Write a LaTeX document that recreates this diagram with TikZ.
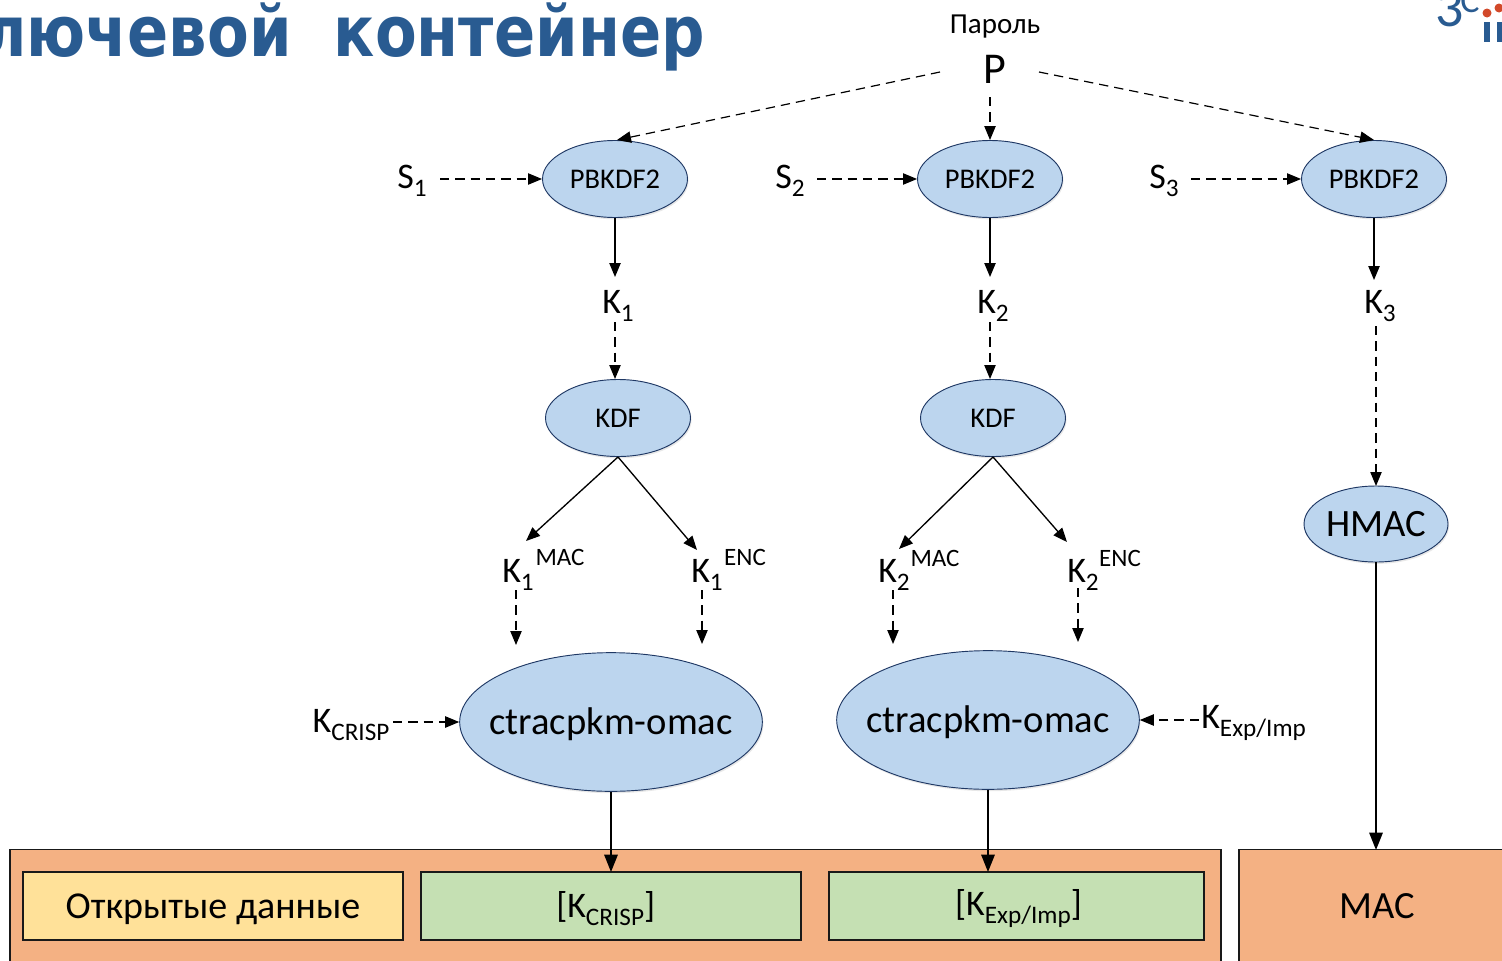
\documentclass[tikz,border=0pt]{standalone}
\usepackage{fontspec}
\setmainfont{Carlito}
\newfontfamily\titlefont[FakeStretch=0.865]{DejaVu Sans Bold}
\usetikzlibrary{shapes.geometric,arrows.meta,shadows}
\newcommand{\pxf}[1]{\fontsize{\dimexpr#1pt*3/4\relax}{\dimexpr#1pt*9/10\relax}\selectfont}
\newcommand{\lowered}[1]{\raisebox{-0.22em}{\scalebox{0.7}{#1}}}
\newcommand{\ztext}[1]{\makebox[0pt]{#1}}
\newcommand{\shiftdown}[2]{\raisebox{-#1}[\height][\depth]{#2}}
\definecolor{ellfill}{HTML}{BCD5EE}
\definecolor{elldraw}{HTML}{1F3864}
\definecolor{orangefill}{HTML}{F4B183}
\definecolor{yellowfill}{HTML}{FFE199}
\definecolor{greenfill}{HTML}{C5E0B3}
\definecolor{titleblue}{HTML}{295B91}
\definecolor{logored}{HTML}{D2492A}
\tikzset{
  x=0.75pt,y=-0.75pt,
  tip/.style={-{Triangle[length=10.5pt,width=8.5pt]}},
  solidarrow/.style={tip,line width=1pt,black},
  heavyarrow/.style={-{Triangle[length=13pt,width=10pt]},line width=1.5pt,black},
  dasharrow/.style={tip,line width=0.9pt,black,dash pattern=on 7pt off 4.5pt},
  ell/.style={ellipse,draw=elldraw,fill=ellfill,line width=0.7pt,inner sep=0pt,
    drop shadow={opacity=0.18,shadow xshift=0.8pt,shadow yshift=-1.4pt}},
  smallell/.style={ell,minimum width=108.75pt,minimum height=57.75pt,font=\pxf{28.5}},
  bigell/.style={ell,minimum width=227pt,minimum height=104pt,font=\pxf{38.6}},
  hmacell/.style={ell,minimum width=108pt,minimum height=57pt,font=\pxf{38.7}},
  lab/.style={inner sep=0pt,font=\pxf{36}},
  box/.style={draw=black!90,line width=1.1pt,inner sep=0pt,outer sep=0pt,anchor=north west,
    drop shadow={opacity=0.15,shadow xshift=0.8pt,shadow yshift=-0.8pt}},
}
\begin{document}
\begin{tikzpicture}
\useasboundingbox (0,0) rectangle (1502,960);
\clip (0,0) rectangle (1502,960);
% title
\node[anchor=east,inner sep=0pt,text=titleblue,font={\titlefont\fontsize{52.7pt}{60pt}\selectfont}] (title) at (705,37) {Ключевой\hspace{0.6em}контейнер};
% logo
\node[inner sep=0pt,text=titleblue,font=\pxf{56}] (logo3) at (1450,9) {3};
\node[inner sep=0pt,text=titleblue,font=\pxf{36}] (logoc) at (1470,1) {C};
\fill[logored] (1487,13) circle (4.5);
\fill[logored] (1499,8) circle (4.5);
\fill[titleblue] (1484,22) rectangle (1490,42);
\fill[titleblue] (1497,22) rectangle (1502,42);
% bottom panels
\node[box,fill=orangefill,minimum width=908.25pt,minimum height=100pt] (panelA) at (10,849.5) {};
\node[box,fill=orangefill,minimum width=240pt,minimum height=100pt] (panelB) at (1239,849.5) {};
\node[box,fill=yellowfill,minimum width=285pt,minimum height=51pt,font=\pxf{38}] (open) at (23,872) {\shiftdown{2.2pt}{Открытые данные}};
\node[box,fill=greenfill,minimum width=285pt,minimum height=51pt,font=\pxf{36}] (crisp) at (421,872) {\hspace*{-8pt}\shiftdown{1.8pt}{[K\lowered{CRISP}]}};
\node[box,fill=greenfill,minimum width=281.25pt,minimum height=51pt,font=\pxf{36}] (exp) at (829,872) {\hspace*{3pt}\shiftdown{1.8pt}{[K\lowered{Exp/Imp}]}};
\node[inner sep=0pt,font=\pxf{38.5}] (mac) at (1377,906) {MAC};
\coordinate (macin) at (1376,850);
% ellipses
\node[smallell] (pa) at (615,179) {\ztext{PBKDF2}};
\node[smallell] (pb) at (990,179) {\ztext{PBKDF2}};
\node[smallell] (pc) at (1374,179) {\ztext{PBKDF2}};
\node[smallell] (ka) at (618,418) {\ztext{KDF}};
\node[smallell] (kb) at (993,418) {\ztext{KDF}};
\node[hmacell] (hm) at (1376,524) {\ztext{HMAC}};
\node[bigell] (ca) at (611,722) {\ztext{\shiftdown{1.5pt}{ctracpkm-omac}}};
\node[bigell] (cb) at (988,720) {\ztext{\shiftdown{1.5pt}{ctracpkm-omac}}};
% labels
\node[inner sep=0pt,font=\pxf{29}] (pw) at (995,27) {Пароль};
\node[inner sep=0pt,font=\pxf{44}] (P) at (995,69) {P};
\node[lab] (s1) at (412,181) {S\lowered{1}};
\node[lab] (s2) at (790,181) {S\lowered{2}};
\node[lab] (s3) at (1164,181) {S\lowered{3}};
\node[lab] (k1) at (618,306) {K\lowered{1}};
\node[lab] (k2) at (993,306) {K\lowered{2}};
\node[lab] (k3) at (1380,306) {K\lowered{3}};
\node[lab] (k1m) at (518,575) {K\lowered{1}};
\node[inner sep=0pt,font=\pxf{25}] (k1mt) at (560,557) {MAC};
\node[lab] (k1e) at (707,575) {K\lowered{1}};
\node[inner sep=0pt,font=\pxf{25}] (k1et) at (745,557) {ENC};
\node[lab] (k2m) at (894,575) {K\lowered{2}};
\node[inner sep=0pt,font=\pxf{25}] (k2mt) at (935,558) {MAC};
\node[lab] (k2e) at (1083,575) {K\lowered{2}};
\node[inner sep=0pt,font=\pxf{25}] (k2et) at (1120,558) {ENC};
\node[lab] (kc) at (351,725) {K\lowered{CRISP}};
\node[lab,anchor=west] (ke) at (1201,723) {K\lowered{Exp/Imp}};
% free ends
\coordinate (pl) at (940,72);
\coordinate (pr) at (1039,72);
\coordinate (pd) at (990,97);
\coordinate (paT) at (617,140);
\coordinate (pcT) at (1374,140);
\coordinate (s1o) at (440,179);
\coordinate (s2o) at (817,179);
\coordinate (s3o) at (1191,179);
\coordinate (k1i) at (615,277);
\coordinate (k1o) at (615,322);
\coordinate (k2i) at (990,277);
\coordinate (k2o) at (990,322);
\coordinate (k3i) at (1374,280);
\coordinate (k3o) at (1376,326);
\coordinate (k1d) at (615,379);
\coordinate (k2d) at (990,379);
\coordinate (k3d) at (1376,486);
\coordinate (mai) at (526,541);
\coordinate (mei) at (697,550);
\coordinate (mbi) at (899,549);
\coordinate (mei2) at (1067,542);
\coordinate (ao) at (516,590);
\coordinate (at) at (516,645);
\coordinate (bo) at (702,590);
\coordinate (bt) at (702,644);
\coordinate (co) at (893,590);
\coordinate (ct) at (893,644);
\coordinate (do) at (1078,588);
\coordinate (dt) at (1078,642);
\coordinate (cki) at (393,722);
\coordinate (kei) at (1199,720);
\coordinate (crispT) at (611,872);
\coordinate (expT) at (988,872);
% connectors
\draw[dasharrow] (pl) -- (paT);
\draw[dasharrow] (pd) -- (pb.north);
\draw[dasharrow] (pr) -- (pcT);
\draw[dasharrow] (s1o) -- (pa.west);
\draw[dasharrow] (s2o) -- (pb.west);
\draw[dasharrow] (s3o) -- (pc.west);
\draw[solidarrow] (pa.south) -- (k1i);
\draw[solidarrow] (pb.south) -- (k2i);
\draw[solidarrow] (pc.south) -- (k3i);
\draw[dasharrow] (k1o) -- (k1d);
\draw[dasharrow] (k2o) -- (k2d);
\draw[dasharrow] (k3o) -- (k3d);
\draw[solidarrow] (ka.south) -- (mai);
\draw[solidarrow] (ka.south) -- (mei);
\draw[solidarrow] (kb.south) -- (mbi);
\draw[solidarrow] (kb.south) -- (mei2);
\draw[dasharrow] (ao) -- (at);
\draw[dasharrow] (bo) -- (bt);
\draw[dasharrow] (co) -- (ct);
\draw[dasharrow] (do) -- (dt);
\draw[dasharrow] (cki) -- (ca.west);
\draw[dasharrow] (kei) -- (cb.east);
\draw[heavyarrow] (ca.south) -- (crispT);
\draw[heavyarrow] (cb.south) -- (expT);
\draw[heavyarrow] (hm.south) -- (macin);
\end{tikzpicture}
\end{document}
